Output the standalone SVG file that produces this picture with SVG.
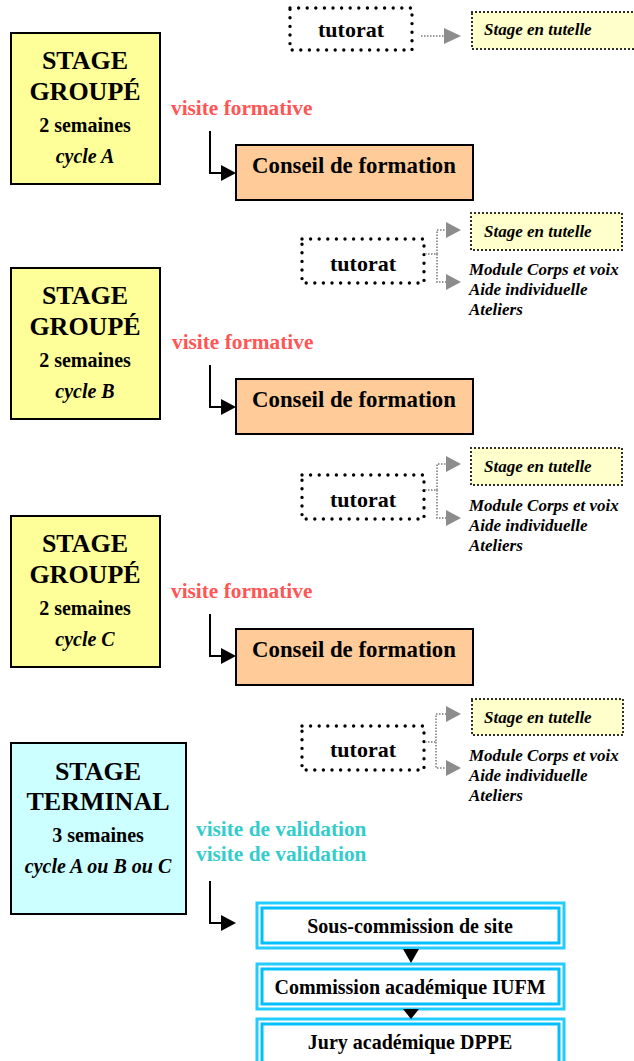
<svg xmlns="http://www.w3.org/2000/svg" width="634" height="1061" viewBox="0 0 634 1061">
<defs>
<style>
text{font-family:"Liberation Serif","Times New Roman",serif;font-weight:bold;fill:#000}
.big{font-size:26px;text-anchor:middle}
.mid{font-size:20px;text-anchor:middle}
.it{font-style:italic}
.tut{font-size:22px;text-anchor:middle}
.tutl{font-size:17px;font-style:italic}
.mod{font-size:17px;font-style:italic}
.vf{font-size:21.3px;fill:#FF5555}
.vv{font-size:21.3px;fill:#33CCCC}
.cf{font-size:22.8px;text-anchor:middle}
.cm{font-size:20px;text-anchor:middle}
.stage{fill:#FFFF99;stroke:#000;stroke-width:2}
.term{fill:#CCFFFF;stroke:#000;stroke-width:2}
.conseil{fill:#FFCC99;stroke:#000;stroke-width:2}
.tbox{fill:none;stroke:#000;stroke-width:3.4;stroke-dasharray:0 8.6;stroke-linecap:round}
.tlbox{fill:#FFFFCC;stroke:#000;stroke-width:2.2;stroke-dasharray:0 4;stroke-linecap:round}
.gline{fill:none;stroke:#999;stroke-width:2;stroke-dasharray:1.5 1.5}
.garr{fill:#8C8C8C}
.bline{fill:none;stroke:#000;stroke-width:2}
.barr{fill:#000}
.out{fill:#fff;stroke:#22CCFF;stroke-width:3}
.inn{fill:none;stroke:#00BFFF;stroke-width:3}
</style>
</defs>

<!-- Block 1 -->
<g id="stage-a">
<rect class="stage" x="11" y="33" width="149" height="151"/>
<text class="big" x="85" y="69">STAGE</text>
<text class="big" x="85" y="100">GROUPÉ</text>
<text class="mid" x="85" y="132">2 semaines</text>
<text class="mid it" x="85" y="163">cycle A</text>
</g>
<g id="tutorat-1">
<rect class="tbox" x="290" y="8" width="122" height="42"/>
<text class="tut" x="351" y="37">tutorat</text>
</g>
<g id="tutelle-1">
<rect class="tlbox" x="472" y="12" width="170" height="37"/>
<text class="tutl" x="484" y="35">Stage en tutelle</text>
</g>
<text class="vf" x="171" y="115">visite formative</text>
<g id="conseil-1">
<rect class="conseil" x="236" y="145" width="237" height="55"/>
<text class="cf" x="354" y="173">Conseil de formation</text>
</g>

<!-- Block 2 -->
<g id="stage-b" transform="translate(0,235)">
<rect class="stage" x="11" y="33" width="149" height="151"/>
<text class="big" x="85" y="69">STAGE</text>
<text class="big" x="85" y="100">GROUPÉ</text>
<text class="mid" x="85" y="132">2 semaines</text>
<text class="mid it" x="85" y="163">cycle B</text>
</g>
<g id="tutorat-2">
<rect class="tbox" x="302" y="239" width="122" height="44"/>
<text class="tut" x="363" y="271">tutorat</text>
</g>
<g id="tutelle-2">
<rect class="tlbox" x="471" y="213" width="151" height="37"/>
<text class="tutl" x="484" y="237">Stage en tutelle</text>
</g>
<g id="modules-2">
<text class="mod" x="469" y="275">Module Corps et voix</text>
<text class="mod" x="469" y="295">Aide individuelle</text>
<text class="mod" x="469" y="315">Ateliers</text>
</g>
<text class="vf" x="172" y="349">visite formative</text>
<g id="conseil-2">
<rect class="conseil" x="236" y="379" width="237" height="55"/>
<text class="cf" x="354" y="407">Conseil de formation</text>
</g>

<!-- Block 3 -->
<g id="stage-c" transform="translate(0,483)">
<rect class="stage" x="11" y="33" width="149" height="151"/>
<text class="big" x="85" y="69">STAGE</text>
<text class="big" x="85" y="100">GROUPÉ</text>
<text class="mid" x="85" y="132">2 semaines</text>
<text class="mid it" x="85" y="163">cycle C</text>
</g>
<g id="tutorat-3">
<rect class="tbox" x="302" y="475" width="122" height="44"/>
<text class="tut" x="363" y="507">tutorat</text>
</g>
<g id="tutelle-3">
<rect class="tlbox" x="471" y="448" width="151" height="37"/>
<text class="tutl" x="484" y="472">Stage en tutelle</text>
</g>
<g id="modules-3">
<text class="mod" x="469" y="511">Module Corps et voix</text>
<text class="mod" x="469" y="531">Aide individuelle</text>
<text class="mod" x="469" y="551">Ateliers</text>
</g>
<text class="vf" x="171" y="598">visite formative</text>
<g id="conseil-3">
<rect class="conseil" x="236" y="629" width="237" height="56"/>
<text class="cf" x="354" y="657">Conseil de formation</text>
</g>

<!-- Block 4 -->
<g id="stage-terminal">
<rect class="term" x="11" y="743" width="175" height="171"/>
<text class="big" x="98" y="780">STAGE</text>
<text class="big" x="98" y="810">TERMINAL</text>
<text class="mid" x="98" y="842">3 semaines</text>
<text class="mid it" x="98" y="873">cycle A ou B ou C</text>
</g>
<g id="tutorat-4">
<rect class="tbox" x="302" y="726" width="122" height="44"/>
<text class="tut" x="363" y="757">tutorat</text>
</g>
<g id="tutelle-4">
<rect class="tlbox" x="472" y="699" width="151" height="36"/>
<text class="tutl" x="484" y="723">Stage en tutelle</text>
</g>
<g id="modules-4">
<text class="mod" x="469" y="761">Module Corps et voix</text>
<text class="mod" x="469" y="781">Aide individuelle</text>
<text class="mod" x="469" y="801">Ateliers</text>
</g>
<text class="vv" x="196" y="836">visite de validation</text>
<text class="vv" x="196" y="861">visite de validation</text>
<g id="sous-commission">
<rect class="out" x="257" y="903" width="307" height="45"/>
<rect class="inn" x="262" y="908" width="297" height="35"/>
<text class="cm" x="410" y="933">Sous-commission de site</text>
</g>
<g id="commission">
<rect class="out" x="257" y="964" width="307" height="45"/>
<rect class="inn" x="262" y="969" width="297" height="35"/>
<text class="cm" x="410" y="994">Commission académique IUFM</text>
</g>
<g id="jury">
<rect class="out" x="257" y="1019" width="307" height="50"/>
<rect class="inn" x="262" y="1024" width="297" height="45"/>
<text class="cm" x="410" y="1049">Jury académique DPPE</text>
</g>

<!-- Connectors -->
<g id="connectors">
<path class="gline" d="M421,36 H444"/>
<polygon class="garr" points="444,28 461,36 444,44"/>

<path class="gline" d="M425,254 H437 V230 H446 M437,254 V282 H446"/>
<polygon class="garr" points="446,222 461,230 446,238"/>
<polygon class="garr" points="446,274 461,282 446,290"/>

<path class="gline" d="M425,490 H437 V464 H446 M437,490 V518 H446"/>
<polygon class="garr" points="446,456 461,464 446,472"/>
<polygon class="garr" points="446,510 461,518 446,526"/>

<path class="gline" d="M425,742 H436 V714 H446 M436,742 V768 H446"/>
<polygon class="garr" points="446,706 461,714 446,722"/>
<polygon class="garr" points="446,760 461,768 446,776"/>

<path class="bline" d="M210,131 V173 H222"/>
<polygon class="barr" points="221,165 236,173 221,181"/>
<path class="bline" d="M210,365 V407 H222"/>
<polygon class="barr" points="221,399 236,407 221,415"/>
<path class="bline" d="M210,614 V656 H222"/>
<polygon class="barr" points="221,648 236,656 221,664"/>
<path class="bline" d="M210,881 V923 H222"/>
<polygon class="barr" points="221,915 236,923 221,931"/>

<polygon class="barr" points="403,949 419,949 411,963"/>
<polygon class="barr" points="403,1009 419,1009 411,1019"/>
</g>
</svg>
